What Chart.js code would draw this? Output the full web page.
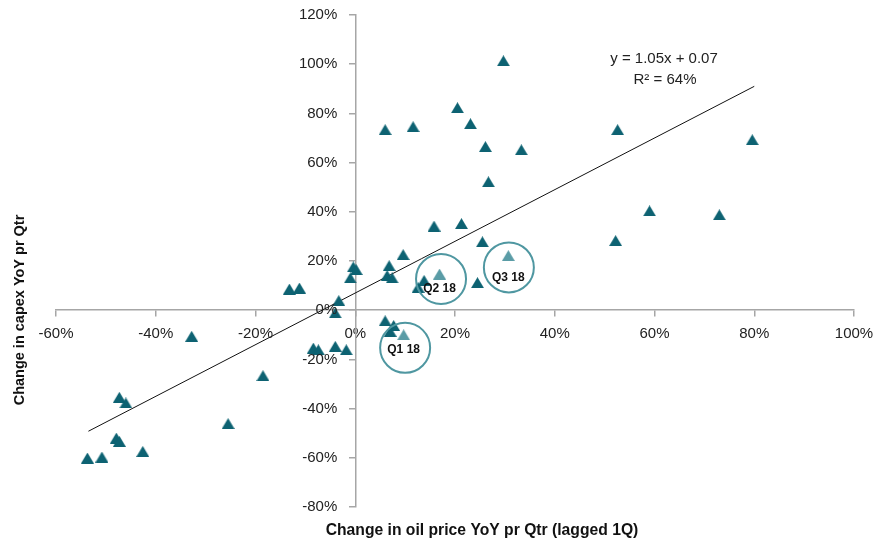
<!DOCTYPE html>
<html lang="en">
<head>
<meta charset="UTF-8">
<title>Capex vs oil price</title>
<script src="https://cdn.jsdelivr.net/npm/chart.js"></script>
<style>
  html, body { margin: 0; padding: 0; background: #fff; }
  #wrap { width: 887px; height: 543px; }
</style>
</head>
<body>
<div id="wrap"><canvas id="chart" width="887" height="543"></canvas></div>
<script>
// oil price change YoY (lagged 1Q), %
const oilChange = [29.7, 20.5, 23.1, 6.0, 11.6, 26.1, 33.3, 52.6, 79.6, 26.7,
  59.0, 73.0, 52.2, 21.3, 25.5, 24.5, 15.8, 9.6, -0.4, 0.2, -1.0, 6.8, 6.4, 7.4,
  13.8, 12.6, -13.2, -11.2, -3.3, -4.0, 6.0, 7.7, 7.0, -8.4, -7.4, -4.0, -1.8,
  -32.8, -18.5, -25.5, -47.3, -46.0, -47.9, -47.3, -42.6, -53.7, -50.8];
// capex change YoY, %
const capexChange = [101.4, 82.3, 75.8, 73.4, 74.6, 66.5, 65.2, 73.4, 69.3, 52.2,
  40.4, 38.8, 28.3, 35.2, 27.8, 11.2, 34.2, 22.6, 17.6, 16.5, 13.1, 18.1, 14.1, 13.1,
  12.1, 9.3, 8.6, 9.0, 3.9, -1.1, -4.3, -6.2, -8.6, -15.4, -16.1, -14.7, -16.1,
  -10.6, -26.6, -46.1, -35.4, -37.7, -52.0, -53.3, -57.4, -60.1, -59.7];

// highlighted 2018 quarters
const qLabels = ['Q1 18', 'Q2 18', 'Q3 18'];
const qOil = [9.7, 16.9, 30.7];
const qCapex = [-10.0, 14.7, 22.2];
const qLabelY = [-16.1, 8.6, 13.3];
const qCircleY = [-15.3, 12.7, 17.4];
const qCircleX = [10.0, 17.2, 30.8];

// fitted line y = 1.05x + 0.07
const trendX = [-53.5, 80];
const trendY = [-49.2, 91.0];

const xTicks = [-60, -40, -20, 0, 20, 40, 60, 80, 100];
const yTicks = [-80, -60, -40, -20, 0, 20, 40, 60, 80, 100, 120];

const dark = '#0d6272';
const light = '#5a9ca6';
const ring = '#4f97a1';
const axisCol = '#a6a6a6';
const fontFam = '"Liberation Sans", Arial, sans-serif';

const toPts = (xs, ys) => xs.map((x, i) => ({ x: x, y: ys[i] }));

// triangle marker centred on its box, like the excel one
function triMarker(col) {
  const c = document.createElement('canvas');
  c.width = 13; c.height = 11;
  const g = c.getContext('2d');
  g.fillStyle = col;
  g.beginPath();
  g.moveTo(6.5, 0);
  g.lineTo(13, 11);
  g.lineTo(0, 11);
  g.closePath();
  g.fill();
  return c;
}

const overlay = {
  id: 'overlay',
  afterDraw(chart) {
    const { ctx, scales: { x, y } } = chart;
    ctx.save();
    // y tick labels sit left of the tick marks
    ctx.font = '15px ' + fontFam;
    ctx.fillStyle = '#222';
    ctx.textAlign = 'right';
    ctx.textBaseline = 'middle';
    const axisX = x.getPixelForValue(0);
    y.ticks.forEach(t => {
      ctx.fillText(t.value + '%', axisX - 18, y.getPixelForValue(t.value));
    });
    // circles + labels for the 2018 quarters
    ctx.strokeStyle = ring;
    ctx.lineWidth = 2;
    qLabels.forEach((lab, i) => {
      ctx.beginPath();
      ctx.arc(x.getPixelForValue(qCircleX[i]), y.getPixelForValue(qCircleY[i]), 25, 0, Math.PI * 2);
      ctx.stroke();
    });
    ctx.fillStyle = '#111';
    ctx.font = 'bold 12px ' + fontFam;
    ctx.textAlign = 'center';
    qLabels.forEach((lab, i) => {
      ctx.fillText(lab, x.getPixelForValue(qOil[i]), y.getPixelForValue(qLabelY[i]));
    });
    // regression text
    ctx.font = '15px ' + fontFam;
    ctx.fillStyle = '#222';
    ctx.fillText('y = 1.05x + 0.07', 664, 59);
    ctx.fillText('R² = 64%', 665, 80);
    // axis titles
    ctx.fillStyle = '#111';
    ctx.font = 'bold 15.7px ' + fontFam;
    ctx.fillText('Change in oil price YoY pr Qtr (lagged 1Q)', 482, 531);
    ctx.font = 'bold 14.5px ' + fontFam;
    ctx.translate(20, 310);
    ctx.rotate(-Math.PI / 2);
    ctx.fillText('Change in capex YoY pr Qtr', 0, 0);
    ctx.restore();
  }
};

new Chart(document.getElementById('chart'), {
  data: {
    datasets: [
      {
        type: 'line',
        data: toPts(trendX, trendY),
        borderColor: '#111',
        borderWidth: 1,
        pointRadius: 0,
        fill: false,
        order: 3
      },
      {
        type: 'scatter',
        data: toPts(oilChange, capexChange),
        pointStyle: triMarker(dark),
        order: 2
      },
      {
        type: 'scatter',
        data: toPts(qOil, qCapex),
        pointStyle: triMarker(light),
        order: 1
      }
    ]
  },
  options: {
    responsive: false,
    animation: false,
    layout: { padding: { left: 56, right: 33, top: 15, bottom: 36 } },
    plugins: { legend: { display: false }, tooltip: { enabled: false } },
    scales: {
      x: {
        type: 'linear',
        position: { y: 0 },
        min: -60, max: 100,
        afterBuildTicks: s => { s.ticks = xTicks.map(v => ({ value: v })); },
        grid: { drawOnChartArea: false, drawTicks: true, tickLength: 6, color: axisCol, lineWidth: 1.5 },
        border: { color: axisCol, width: 1.5 },
        ticks: {
          color: '#222',
          font: { family: fontFam, size: 15 },
          padding: 9,
          maxRotation: 0,
          callback: v => v + '%'
        }
      },
      y: {
        type: 'linear',
        position: { x: 0 },
        min: -80, max: 120,
        afterBuildTicks: s => { s.ticks = yTicks.map(v => ({ value: v })); },
        grid: { drawOnChartArea: false, drawTicks: true, tickLength: 6, color: axisCol, lineWidth: 1.5 },
        border: { color: axisCol, width: 1.5 },
        ticks: { display: false }
      }
    }
  },
  plugins: [overlay]
});
</script>
</body>
</html>
